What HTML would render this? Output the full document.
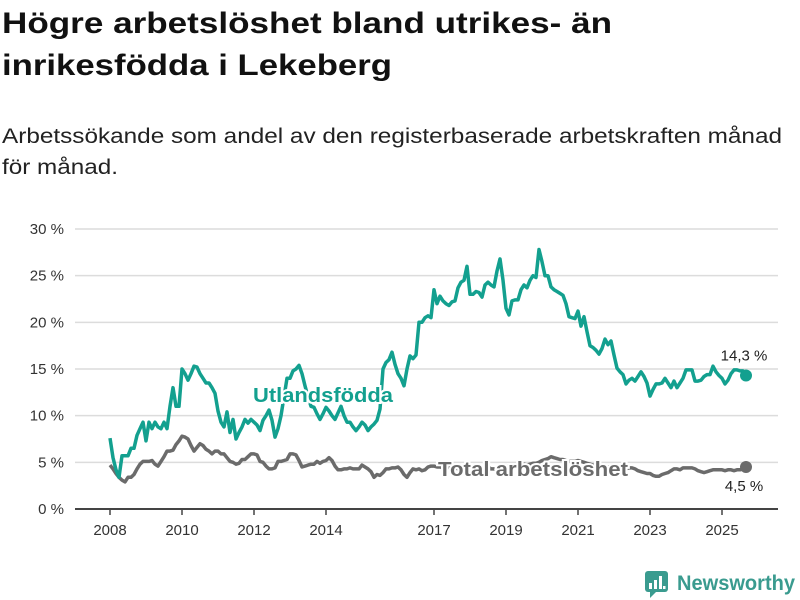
<!DOCTYPE html>
<html><head><meta charset="utf-8"><style>
body{margin:0;background:#fff;}
svg{display:block;font-family:"Liberation Sans","DejaVu Sans",sans-serif;}
</style></head><body>
<svg id="chart" width="800" height="600" viewBox="0 0 800 600">
<text x="2" y="33" font-size="30" font-weight="bold" fill="#111" textLength="610" lengthAdjust="spacingAndGlyphs">Högre arbetslöshet bland utrikes- än</text>
<text x="2" y="75" font-size="30" font-weight="bold" fill="#111" textLength="390" lengthAdjust="spacingAndGlyphs">inrikesfödda i Lekeberg</text>
<text x="2" y="143" font-size="21" fill="#222" textLength="780" lengthAdjust="spacingAndGlyphs">Arbetssökande som andel av den registerbaserade arbetskraften månad</text>
<text x="2" y="174" font-size="21" fill="#222" textLength="116" lengthAdjust="spacingAndGlyphs">för månad.</text>
<g id="grid"></g><g id="yticks"></g><g id="xaxis"></g><g id="series"></g><g id="labels"></g>
<g>
<rect x="645" y="571" width="23" height="21" rx="3" fill="#3a9b8f"/>
<path d="M650 592 L650 598 L656 592 Z" fill="#3a9b8f"/>
<rect x="649" y="583" width="3" height="6" fill="#fff"/><rect x="654" y="580" width="3" height="9" fill="#fff"/><rect x="659" y="576" width="3" height="13" fill="#fff"/><rect x="663" y="586" width="2.5" height="3" fill="#fff"/>
<text x="677" y="590" font-size="21" font-weight="bold" fill="#3a9b8f" textLength="118" lengthAdjust="spacingAndGlyphs">Newsworthy</text>
</g>
</svg>
<script>
const yTicks=[0,5,10,15,20,25,30];
const xTickYears=[2008,2010,2012,2014,2017,2019,2021,2023,2025];
const startYear=2008;
const utlandsfodda=[
7.6,5.5,4.2,3.4,5.7,5.7,5.7,6.5,6.5,7.9,8.6,9.3,
7.3,9.3,8.6,9.3,8.8,8.6,9.3,8.6,11,13,11,11,
15,14.5,13.8,14.5,15.3,15.2,14.5,14,13.5,13.5,13,12.4,
10.5,9.3,8.8,10.4,8.2,9.6,7.5,8.2,8.8,9.6,9.2,9.6,
9.3,9.0,8.4,9.5,10,10.6,9.5,7.7,8.6,10,12,14,
14,14.8,15,15.4,14.5,13.2,12,11,10.9,10.2,9.6,10.2,
10.9,10.5,10,9.6,10.3,11,10,9.3,9.3,8.8,8.4,8.8,
9.3,9,8.4,8.8,9.1,9.5,10.7,15,15.7,16,16.8,15.5,
14.5,14,13.2,15,16.4,16.1,16.5,20,20,20.5,20.7,20.5,
23.5,22,22.8,22.3,22,21.8,22.2,22.3,23.7,24.3,24.5,26,
23,23,23.3,23.2,22.7,24,24.3,24,23.8,25.5,26.8,24.5,
21.5,20.8,22.3,22.4,22.4,23.5,24,23.7,24.5,25,24.8,27.8,
26.5,25,25,23.8,23.5,23.3,23.1,22.9,22,20.6,20.5,20.4,
21.2,19.6,20.6,19.0,17.5,17.3,17.0,16.6,17.2,18.2,17.6,18.0,
16.5,15.1,14.7,14.4,13.4,13.8,14,13.7,14.2,14.7,14.2,13.5,
12.1,12.8,13.4,13.4,13.5,14,13.5,13,13.7,13,13.5,14,
14.9,14.9,14.9,13.7,13.7,13.8,14.2,14.4,14.4,15.3,14.7,14.3,
14,13.4,13.8,14.5,14.9,14.9,14.8,14.8,14.3];
const totalArbetsloshet=[
4.7,4.3,3.8,3.4,3.1,2.9,3.4,3.4,3.7,4.3,4.8,5.1,
5.1,5.1,5.2,4.8,4.6,5.1,5.6,6.2,6.2,6.3,6.9,7.3,
7.8,7.7,7.5,6.8,6.2,6.6,7.0,6.8,6.4,6.2,5.9,6.2,
6.2,5.9,5.9,5.5,5.1,5.0,4.8,4.9,5.3,5.3,5.6,5.9,
5.9,5.8,5.1,5.0,4.6,4.3,4.3,4.4,5.1,5.1,5.2,5.3,
5.9,5.9,5.8,5.2,4.5,4.6,4.7,4.8,4.8,5.1,4.9,5.1,
5.2,5.5,5.2,4.6,4.2,4.2,4.3,4.3,4.4,4.3,4.3,4.3,
4.7,4.5,4.3,4.0,3.4,3.7,3.6,3.9,4.3,4.3,4.4,4.4,
4.5,4.2,3.7,3.4,3.9,4.3,4.2,4.3,4.1,4.2,4.5,4.6,
4.6,4.5,4.5,4.4,4.3,4.5,4.6,4.4,4.3,4.2,4.3,4.4,
4.4,4.5,4.3,4.2,4.2,4.4,4.5,4.3,4.3,4.2,4.4,4.5,
4.5,4.6,4.5,4.6,4.6,4.7,4.8,4.7,4.8,4.9,4.9,5.0,
5.2,5.3,5.4,5.6,5.5,5.4,5.3,5.3,5.2,5.1,5.1,5.1,
5.2,5.1,5.0,4.9,4.8,4.7,4.6,4.6,4.6,4.5,4.5,4.5,
4.5,4.4,4.4,4.3,4.3,4.4,4.4,4.3,4.1,4.0,3.9,3.8,
3.8,3.6,3.5,3.5,3.7,3.8,3.9,4.1,4.3,4.3,4.2,4.4,
4.4,4.4,4.4,4.3,4.1,4.0,3.9,4.0,4.1,4.2,4.2,4.2,
4.2,4.1,4.2,4.2,4.1,4.2,4.2,4.3,4.5];

const NS='http://www.w3.org/2000/svg';
const X0=110,PXM=3,Y0=509,PXP=9.333;
function xScale(i){return X0+i*PXM;}
function yScale(v){return Y0-v*PXP;}
function mk(tag,attrs,parent,txt){const e=document.createElementNS(NS,tag);for(const k in attrs)e.setAttribute(k,attrs[k]);if(txt!==undefined)e.textContent=txt;parent.appendChild(e);return e;}
function fmt(v){return v.toFixed(1).replace('.',',')+' %';}
const grid=document.getElementById('grid'),yt=document.getElementById('yticks'),xa=document.getElementById('xaxis'),ser=document.getElementById('series'),lab=document.getElementById('labels');
yTicks.forEach(t=>{
 if(t>0){const l=mk('line',{x1:75,x2:778,y1:yScale(t),y2:yScale(t),stroke:'#dcdcdc','stroke-width':1.5},grid);
 
 }
 const tx=mk('text',{x:64,y:yScale(t)+5,'font-size':15,fill:'#333','text-anchor':'end'},yt,t+' %');
 
 
});
const ax=mk('line',{x1:75,x2:778,y1:Y0,y2:Y0,stroke:'#444','stroke-width':2},xa);


xTickYears.forEach(yr=>{
 const x=xScale((yr-startYear)*12);
 mk('line',{x1:x,x2:x,y1:Y0,y2:Y0+6,stroke:'#444','stroke-width':1.5},xa);
 const tx=mk('text',{x:x,y:Y0+26,'font-size':15,fill:'#333','text-anchor':'middle'},xa,String(yr));
 
 
});
function line(data,color,name){
 const d=data.map((v,i)=>(i?'L':'M')+xScale(i).toFixed(1)+' '+yScale(v).toFixed(1)).join(' ');
 const p=mk('path',{d:d,fill:'none',stroke:color,'stroke-width':3.5,'stroke-linejoin':'round'},ser);
 
 
 const n=data.length-1;
 const c=mk('circle',{cx:xScale(n),cy:yScale(data[n]),r:6,fill:color},ser);
 
 
}
line(totalArbetsloshet,'#6b6b6b','total-arbetsloshet');
line(utlandsfodda,'#13a08f','utlandsfodda');
const nU=utlandsfodda.length-1,nT=totalArbetsloshet.length-1;
const e1=mk('text',{x:xScale(nU)-2,y:yScale(utlandsfodda[nU])-15,'font-size':15,fill:'#222','text-anchor':'middle'},lab,fmt(utlandsfodda[nU]));


const e2=mk('text',{x:xScale(nT)-2,y:yScale(totalArbetsloshet[nT])+24,'font-size':15,fill:'#222','text-anchor':'middle'},lab,fmt(totalArbetsloshet[nT]));


const s1=mk('text',{x:253,y:402,'font-size':20,'font-weight':'bold',fill:'#13a08f',stroke:'#fff','stroke-width':4,'paint-order':'stroke',textLength:140,lengthAdjust:'spacingAndGlyphs'},lab,'Utlandsfödda');


const s2=mk('text',{x:438,y:476,'font-size':20,'font-weight':'bold',fill:'#6b6b6b',stroke:'#fff','stroke-width':4,'paint-order':'stroke',textLength:190,lengthAdjust:'spacingAndGlyphs'},lab,'Total arbetslöshet');


</script>
</body></html>
